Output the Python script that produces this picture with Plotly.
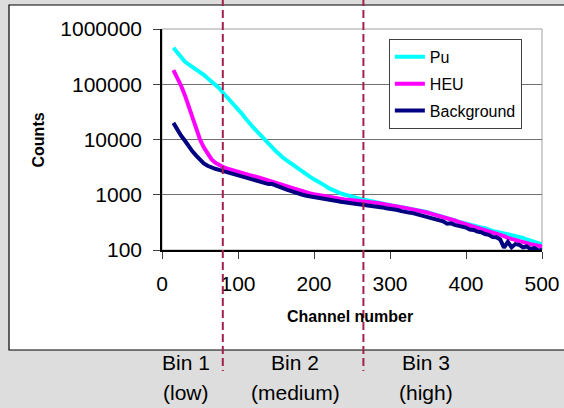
import plotly.graph_objects as go

# ---------------- data ----------------
channels = [15, 20, 25, 30, 35, 40, 45, 50, 55, 60, 65, 70, 75, 80, 85, 90, 95, 100,
            105, 110, 115, 120, 125, 130, 135, 140, 145, 150, 155, 160, 165, 170, 175, 180,
            185, 190, 195, 200, 205, 210, 215, 220, 225, 230, 235, 240, 245, 250, 255, 260,
            265, 270, 275, 280, 285, 290, 295, 300, 305, 310, 315, 320, 325, 330, 335, 340,
            345, 350, 355, 360, 365, 370, 375, 380, 385, 390, 395, 400, 405, 410, 415, 420,
            425, 430, 435, 440, 445, 450, 455, 460, 465, 470, 475, 480, 485, 490, 495, 500]

pu = [456000, 370000, 300000, 258000, 228000, 205000, 185000, 167000, 148000, 128000,
      112000, 98000, 86000, 71000, 60000, 50000, 42000, 35000, 29500, 24000,
      19500, 16500, 14000, 12000, 10000, 8500, 7200, 6100, 5200, 4600,
      4100, 3650, 3200, 2850, 2600, 2350, 2100, 1900, 1750, 1600,
      1450, 1300, 1200, 1130, 1060, 1010, 960, 920, 880, 850,
      820, 790, 760, 730, 705, 690, 670, 650, 630, 615,
      600, 585, 565, 550, 530, 515, 500, 480, 460, 445,
      425, 400, 385, 365, 345, 325, 310, 300, 290, 275,
      268, 255, 248, 232, 222, 215, 208, 200, 196, 190,
      182, 172, 166, 155, 148, 140, 133, 126]

heu = [180000, 132000, 95000, 64000, 40000, 25500, 15500, 10000, 7200, 5500,
       4400, 3800, 3450, 3200, 3000, 2850, 2700, 2600, 2480, 2380,
       2270, 2180, 2100, 1990, 1880, 1780, 1720, 1620, 1550, 1480,
       1420, 1350, 1280, 1200, 1150, 1100, 1060, 1020, 990, 960,
       930, 900, 880, 860, 840, 820, 810, 800, 790, 780,
       770, 760, 740, 720, 700, 685, 660, 645, 625, 610,
       590, 578, 560, 545, 525, 510, 490, 472, 450, 432,
       415, 395, 378, 360, 342, 322, 307, 296, 280, 268,
       255, 245, 232, 222, 208, 200, 188, 178, 166, 158,
       151, 145, 138, 134, 128, 123, 118, 115]

background = [20000, 15000, 11800, 9600, 7500, 6100, 5100, 4300, 3700, 3350,
              3100, 2950, 2820, 2700, 2580, 2470, 2380, 2280, 2180, 2090,
              2000, 1920, 1840, 1740, 1650, 1560, 1560, 1450, 1380, 1280,
              1220, 1160, 1090, 1040, 1000, 960, 930, 900, 870, 840,
              820, 800, 780, 770, 750, 735, 720, 710, 695, 690,
              675, 660, 635, 620, 600, 590, 570, 560, 535, 530,
              505, 500, 475, 465, 445, 440, 415, 400, 370, 365,
              340, 330, 300, 305, 285, 275, 255, 255, 235, 230,
              215, 210, 195, 188, 172, 170, 155, 110, 140, 112,
              128, 124, 112, 116, 104, 108, 98, 100]

series_names = ["Pu", "HEU", "Background"]
series_colors = ["#00FFFF", "#FF00FF", "#000080"]

bin_edges = [80, 265]
bin_names = ["Bin 1", "Bin 2", "Bin 3"]
bin_levels = ["(low)", "(medium)", "(high)"]
bin_label_x = [31, 175, 347]

x_ticks = [0, 100, 200, 300, 400, 500]
y_ticks = [100, 1000, 10000, 100000, 1000000]
y_ticktext = ["100", "1000", "10000", "100000", "1000000"]

# ---------------- figure ----------------
FONT = "Liberation Sans, Arial, sans-serif"
fig = go.Figure()

for name, ys, col in zip(series_names, [pu, heu, background], series_colors):
    fig.add_trace(go.Scatter(x=channels, y=ys, mode="lines", name=name,
                             legendgroup=name,
                             line=dict(color=col, width=4)))

shapes = [
    # white chart box
    dict(type="rect", xref="paper", yref="paper", x0=-0.4026, x1=1.1,
         y0=-0.4525, y1=1.1086, fillcolor="white",
         line=dict(color="black", width=1.2), layer="below"),
    # plot area frame
    dict(type="rect", xref="paper", yref="paper", x0=0, x1=1, y0=0, y1=1,
         line=dict(color="#a0a0a0", width=1), layer="below"),
]
for e in bin_edges:
    shapes.append(dict(type="line", xref="x", yref="paper", x0=e, x1=e,
                       y0=1.14, y1=-0.5475,
                       line=dict(color="#A3204F", width=2, dash="8px,4px"),
                       layer="above"))

annotations = [
    dict(text="<b>Counts</b>", xref="paper", yref="paper", x=-0.3237, y=0.5,
         textangle=-90, showarrow=False, font=dict(size=16, color="black", family=FONT),
         xanchor="center", yanchor="middle"),
    dict(text="<b>Channel number</b>", xref="paper", yref="paper", x=0.495, y=-0.303,
         showarrow=False, font=dict(size=16, color="black", family=FONT),
         xanchor="center", yanchor="middle"),
]
for nm, lv, lx in zip(bin_names, bin_levels, bin_label_x):
    annotations.append(dict(text=nm, xref="x", yref="paper", x=lx, y=-0.511,
                            showarrow=False, font=dict(size=21, color="black", family=FONT),
                            xanchor="center", yanchor="middle"))
    annotations.append(dict(text=lv, xref="x", yref="paper", x=lx, y=-0.643,
                            showarrow=False, font=dict(size=21, color="black", family=FONT),
                            xanchor="center", yanchor="middle"))

fig.update_layout(
    width=564, height=408,
    margin=dict(l=162, r=22, t=29, b=158, pad=0),
    paper_bgcolor="#DDDDDD",
    plot_bgcolor="white",
    font=dict(family=FONT, color="black"),
    showlegend=True,
    legend=dict(x=0.597, y=0.955, xanchor="left", yanchor="top",
                bgcolor="white", bordercolor="#404040", borderwidth=1,
                font=dict(size=16, family=FONT, color="black"),
                tracegroupgap=3, itemwidth=30),
    shapes=shapes,
    annotations=annotations,
)

fig.update_xaxes(range=[0, 500], tickvals=x_ticks, ticks="outside", ticklen=7,
                 tickcolor="#404040", showline=True, linecolor="black", linewidth=1.5,
                 showgrid=False, zeroline=False, tickfont=dict(size=21, family=FONT),
                 ticklabelstandoff=7, automargin=False)
fig.update_yaxes(type="log", range=[2, 6], tickvals=y_ticks, ticktext=y_ticktext,
                 ticks="outside", ticklen=7, tickcolor="#404040",
                 showline=True, linecolor="black", linewidth=1.5,
                 showgrid=True, gridcolor="#707070", gridwidth=1,
                 zeroline=False, tickfont=dict(size=21, family=FONT),
                 ticklabelstandoff=7, automargin=False)

fig.write_html("out.html",
               config={"displayModeBar": False},
               post_script="document.body.style.margin='0';"
                           "document.body.style.overflow='hidden';")
